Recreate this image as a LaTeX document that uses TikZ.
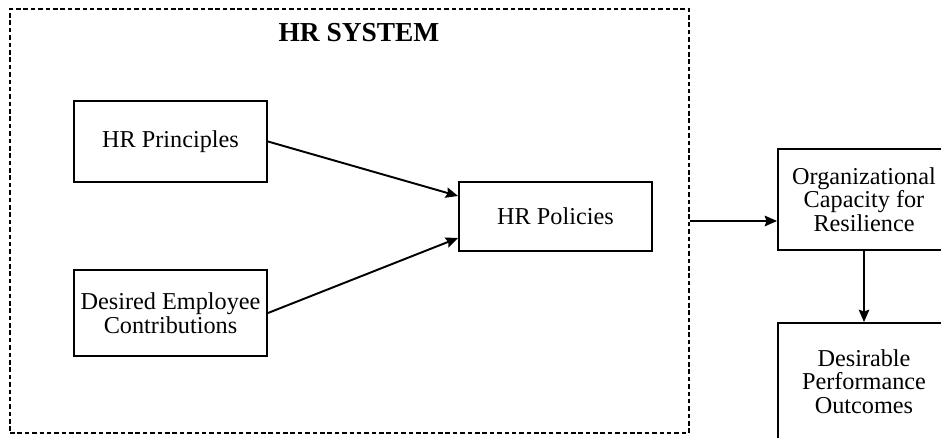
\documentclass[tikz,border=0pt]{standalone}
\usepackage{fontspec}
\setmainfont{Liberation Serif}
\usetikzlibrary{arrows.meta}

\begin{document}
\begin{tikzpicture}[box/.style={draw,line width=1.1pt,inner sep=0pt,align=center,
  font=\fontsize{13.8}{13.5}\selectfont},
  link/.style={line width=1.1pt,-{Stealth[length=7pt,width=6pt,inset=1pt]}}]
  \useasboundingbox (0,0) rectangle (18.82,8.74);
  \clip (0,0) rectangle (18.82,8.74);
  \node[draw,line width=0.9pt,dash pattern=on 2.6pt off 1.6pt,minimum width=13.58cm,
    minimum height=8.48cm,inner sep=0pt] (hrsys) at (6.99,4.32) {};
  \node[font=\fontsize{15.6}{18}\selectfont\bfseries] (title) at (7.18,8.08) {HR SYSTEM};
  \node[box,minimum width=3.86cm,minimum height=1.62cm] (hrp) at (3.41,5.91) {HR Principles};
  \node[box,minimum width=3.86cm,minimum height=1.72cm] (dec) at (3.41,2.48)
    {Desired Employee\\Contributions};
  \node[box,minimum width=3.86cm,minimum height=1.38cm] (pol) at (11.11,4.41) {HR Policies};
  \node[box,minimum width=3.44cm,minimum height=2.02cm] (ocr) at (17.28,4.75)
    {Organizational\\Capacity for\\Resilience};
  \node[box,minimum width=3.44cm,minimum height=2.34cm] (dpo) at (17.28,1.11)
    {Desirable\\Performance\\Outcomes};
  \draw[link] (hrp.east) -- ([yshift=4.1mm]pol.west);
  \draw[link] (dec.east) -- ([yshift=-4.3mm]pol.west);
  \draw[link] (hrsys.east) -- (hrsys.east -| ocr.west);
  \draw[link] (ocr.south) -- (dpo.north);
\end{tikzpicture}
\end{document}
